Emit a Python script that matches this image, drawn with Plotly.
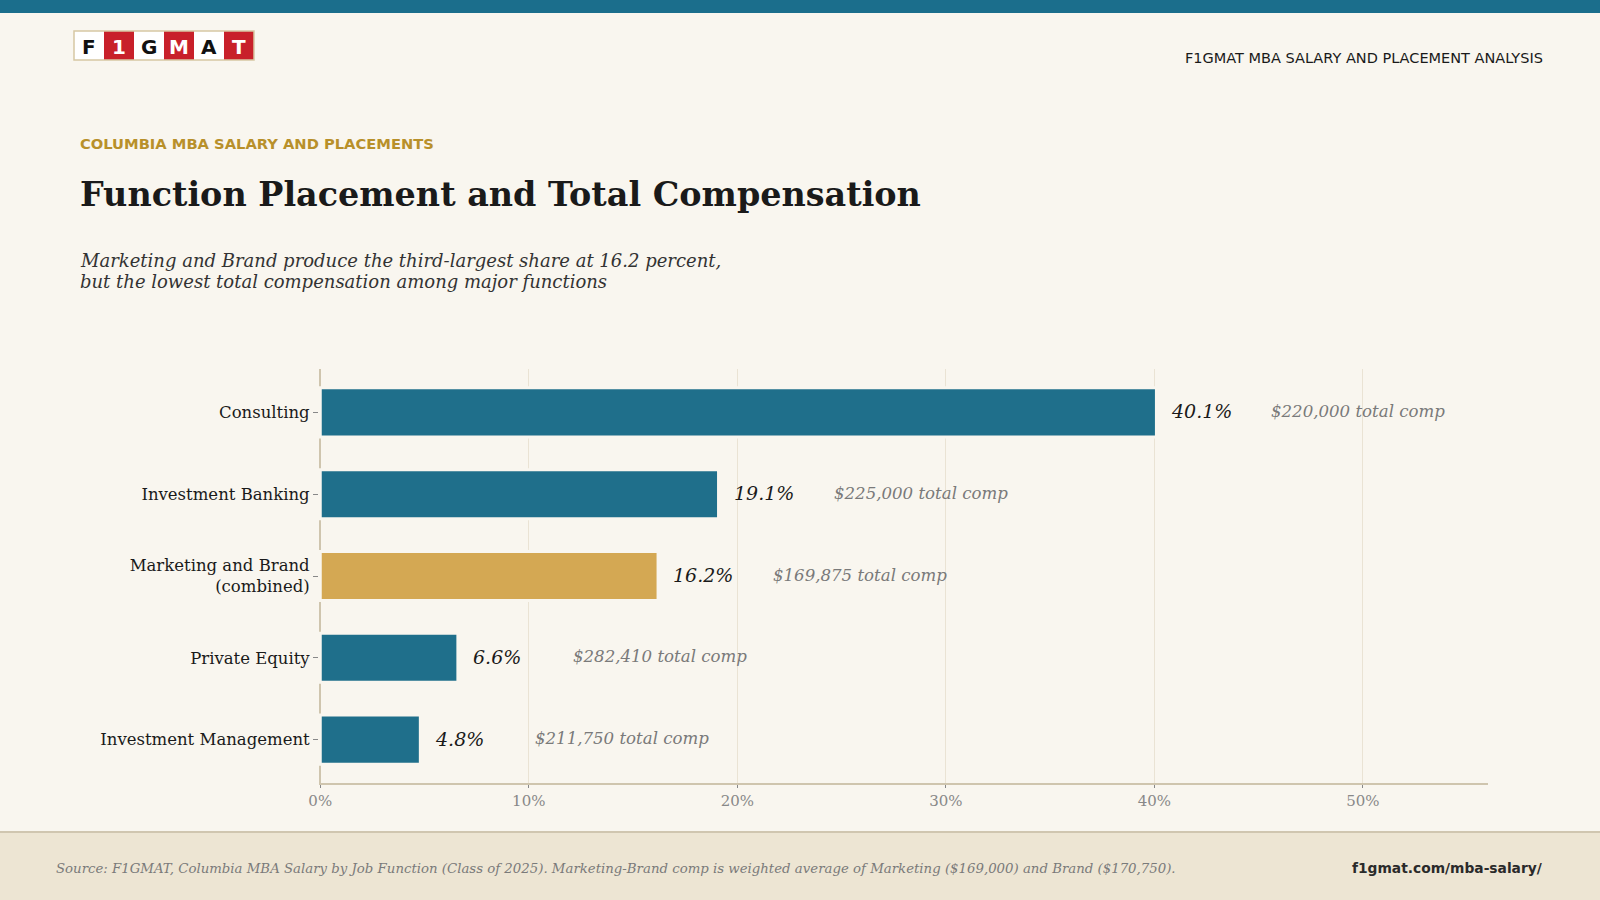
import plotly.graph_objects as go

# ---- data ----
functions = ["Consulting", "Investment Banking", "Marketing and Brand<br>(combined)",
             "Private Equity", "Investment Management"]
share_pct = [40.1, 19.1, 16.2, 6.6, 4.8]
total_comp = ["$220,000", "$225,000", "$169,875", "$282,410", "$211,750"]
highlight = [False, False, True, False, False]
x_ticks = [0, 10, 20, 30, 40, 50]
x_tick_labels = ["0%", "10%", "20%", "30%", "40%", "50%"]

W, H = 1600, 900
ML, MR, MT, MB = 319, 112, 369, 117
PW, PH = W - ML - MR, H - MT - MB

BG = "#F9F6EF"
TEAL = "#1F6F8B"
GOLD = "#D4A853"
AXIS = "#CFC5AE"
SERIF = "DejaVu Serif"
SANS = "DejaVu Sans"


def px(x):
    return (x - ML) / PW


def py(y):
    return (H - MB - y) / PH


colors = [GOLD if h else TEAL for h in highlight]

fig = go.Figure()
fig.add_trace(go.Bar(
    x=share_pct, y=functions, orientation="h",
    marker=dict(color=colors, line=dict(color=BG, width=3)),
    width=0.6, hoverinfo="skip",
))

annotations = []
for f, v, c in zip(functions, share_pct, total_comp):
    annotations.append(dict(x=v, y=f, xref="x", yref="y", text=f"{v:.1f}%",
                            xanchor="left", yanchor="middle", xshift=13, yshift=1, showarrow=False,
                            font=dict(family=SERIF, size=19, color="#1a1a1a", style="italic")))
    annotations.append(dict(x=v, y=f, xref="x", yref="y", text=f"{c} total comp",
                            xanchor="left", yanchor="middle", xshift=113, yshift=1, showarrow=False,
                            font=dict(family=SERIF, size=16.6, color="#7a7a7a", style="italic")))

# header / titles
annotations += [
    dict(x=px(1545), y=py(58), xref="paper", yref="paper", text="F1GMAT MBA SALARY AND PLACEMENT ANALYSIS",
         xanchor="right", yanchor="middle", showarrow=False,
         font=dict(family=SANS, size=14.5, color="#1a1a1a")),
    dict(x=px(78), y=py(143), xref="paper", yref="paper", text="<b>COLUMBIA MBA SALARY AND PLACEMENTS</b>",
         xanchor="left", yanchor="middle", showarrow=False,
         font=dict(family=SANS, size=14.7, color="#B8902A")),
    dict(x=px(78), y=py(195), xref="paper", yref="paper", text="<b>Function Placement and Total Compensation</b>",
         xanchor="left", yanchor="middle", showarrow=False,
         font=dict(family=SERIF, size=33.4, color="#1a1a1a")),
    dict(x=px(78), y=py(260), xref="paper", yref="paper",
         text="Marketing and Brand produce the third-largest share at 16.2 percent,",
         xanchor="left", yanchor="middle", align="left", showarrow=False,
         font=dict(family=SERIF, size=18, color="#333333", style="italic")),
    dict(x=px(78), y=py(281.5), xref="paper", yref="paper",
         text="but the lowest total compensation among major functions",
         xanchor="left", yanchor="middle", align="left", showarrow=False,
         font=dict(family=SERIF, size=18, color="#333333", style="italic")),
    dict(x=px(54), y=py(868), xref="paper", yref="paper",
         text="Source: F1GMAT, Columbia MBA Salary by Job Function (Class of 2025). Marketing-Brand comp is weighted average of Marketing ($169,000) and Brand ($170,750).",
         xanchor="left", yanchor="middle", showarrow=False,
         font=dict(family=SERIF, size=13.3, color="#7a7a7a", style="italic")),
    dict(x=px(1545), y=py(868), xref="paper", yref="paper", text="<b>f1gmat.com/mba-salary/</b>",
         xanchor="right", yanchor="middle", showarrow=False,
         font=dict(family=SANS, size=13.8, color="#2a2a2a")),
]

shapes = [
    dict(type="rect", xref="paper", yref="paper", x0=px(0), x1=px(W), y0=py(0), y1=py(13),
         fillcolor="#1B6E8C", line=dict(width=0), layer="below"),
    dict(type="rect", xref="paper", yref="paper", x0=px(0), x1=px(W), y0=py(832), y1=py(H),
         fillcolor="#EDE5D3", line=dict(width=0), layer="below"),
    dict(type="line", xref="paper", yref="paper", x0=px(0), x1=px(W), y0=py(832), y1=py(832),
         line=dict(color="#D0C6B0", width=2), layer="below"),
]

# logo
letters = ["F", "1", "G", "M", "A", "T"]
lx0, lw, ly0, ly1 = 74, 30, 31, 60
for i, ch in enumerate(letters):
    red = i % 2 == 1
    x0 = lx0 + i * lw
    shapes.append(dict(type="rect", xref="paper", yref="paper", x0=px(x0), x1=px(x0 + lw),
                       y0=py(ly0), y1=py(ly1), fillcolor="#C8202A" if red else "#FFFFFF",
                       line=dict(width=0)))
    annotations.append(dict(x=px(x0 + lw / 2), y=py((ly0 + ly1) / 2 + 1), xref="paper", yref="paper",
                            text=f"<b>{ch}</b>", showarrow=False, xanchor="center", yanchor="middle",
                            font=dict(family=SANS, size=20, color="#FFFFFF" if red else "#111111")))
shapes.append(dict(type="rect", xref="paper", yref="paper", x0=px(lx0), x1=px(lx0 + 6 * lw),
                   y0=py(ly0), y1=py(ly1), line=dict(color="#D6C8A4", width=1.5)))

fig.update_layout(
    width=W, height=H, autosize=False,
    margin=dict(l=ML, r=MR, t=MT, b=MB),
    paper_bgcolor=BG, plot_bgcolor=BG,
    showlegend=False,
    annotations=annotations, shapes=shapes,
    xaxis=dict(range=[-0.06, 56], tickvals=x_ticks, ticktext=x_tick_labels,
               showgrid=True, gridcolor="#EAE3D4", gridwidth=1,
               zeroline=True, zerolinecolor=AXIS, zerolinewidth=1.5,
               showline=True, linecolor=AXIS, linewidth=1.5,
               ticks="outside", ticklen=3, tickcolor="#888888",
               tickfont=dict(family=SERIF, size=15, color="#888888"), fixedrange=True),
    yaxis=dict(categoryorder="array", categoryarray=functions[::-1], autorange=False,
               range=[-0.53, 4.53], showgrid=False, zeroline=False, showline=False,
               ticks="outside", ticklen=5, tickcolor="#888888",
               tickfont=dict(family=SERIF, size=16.5, color="#1a1a1a"), fixedrange=True),
)

fig.write_html("out.html", config={"displayModeBar": False})
